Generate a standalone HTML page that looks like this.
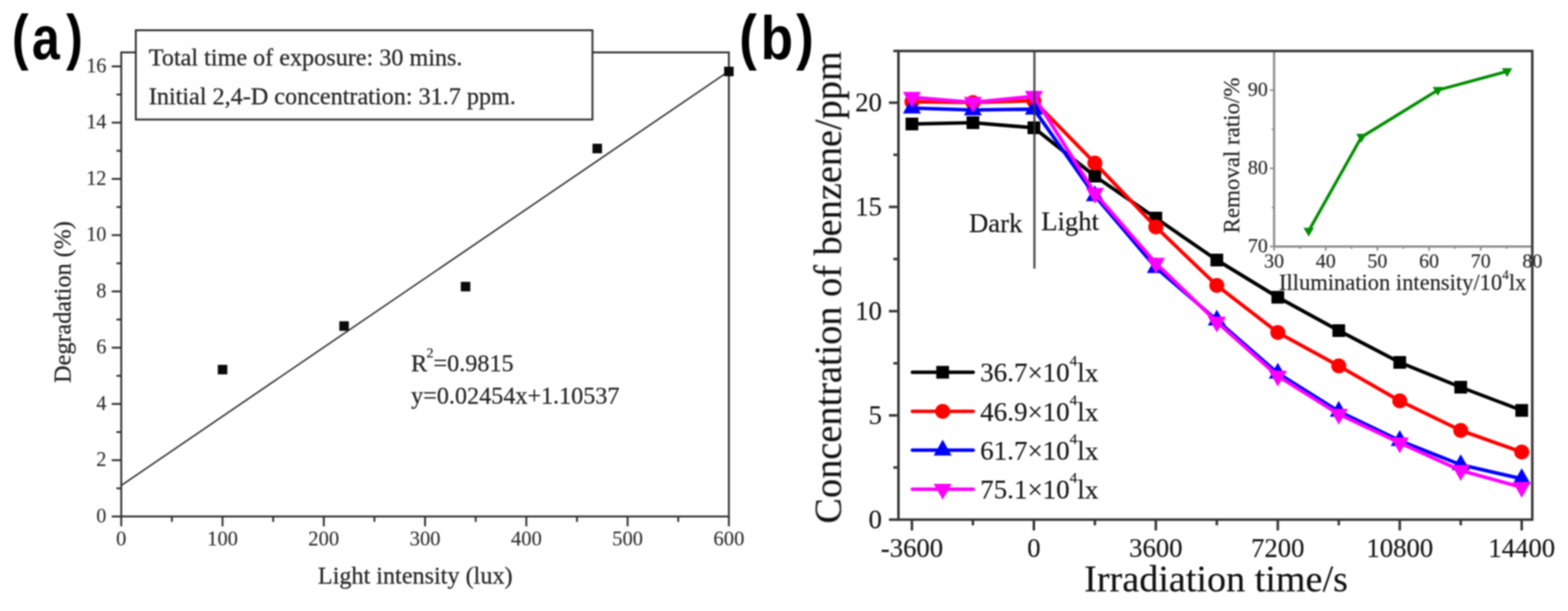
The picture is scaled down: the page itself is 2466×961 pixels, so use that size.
<!DOCTYPE html>
<html lang="en">
<head>
<meta charset="utf-8">
<title>Figure: degradation vs light intensity; benzene concentration vs irradiation time</title>
<style>
html, body { margin: 0; padding: 0; background: #ffffff; }
body { width: 2466px; height: 961px; overflow: hidden; }
svg { display: block; font-family: "Liberation Serif", "DejaVu Serif", serif; }
svg text { white-space: pre; }
#panel-a text { stroke: #262626; stroke-width: 0.38px; }
#panel-a text.tick { stroke: #2e2e2e; stroke-width: 0.2px; }
#panel-b text { stroke: #161616; stroke-width: 0.25px; }
#panel-a text.tag, #panel-b text.tag { stroke: none; }
.soft { filter: blur(1.1px); }
</style>
</head>
<body>
<svg width="2466" height="961" viewBox="0 0 2466 961">
<rect x="0" y="0" width="2466" height="961" fill="#ffffff"/>
<g class="soft">
<g id="panel-a">
<rect x="190.7" y="82.4" width="955.5999999999999" height="729.9" fill="none" stroke="#333333" stroke-width="3.0"/>
<line x1="175.7" y1="812.3" x2="190.7" y2="812.3" stroke="#333333" stroke-width="3.0" />
<line x1="183.2" y1="768.05625" x2="190.7" y2="768.05625" stroke="#333333" stroke-width="3.0" />
<line x1="175.7" y1="723.8125" x2="190.7" y2="723.8125" stroke="#333333" stroke-width="3.0" />
<line x1="183.2" y1="679.5687499999999" x2="190.7" y2="679.5687499999999" stroke="#333333" stroke-width="3.0" />
<line x1="175.7" y1="635.3249999999999" x2="190.7" y2="635.3249999999999" stroke="#333333" stroke-width="3.0" />
<line x1="183.2" y1="591.08125" x2="190.7" y2="591.08125" stroke="#333333" stroke-width="3.0" />
<line x1="175.7" y1="546.8375" x2="190.7" y2="546.8375" stroke="#333333" stroke-width="3.0" />
<line x1="183.2" y1="502.59374999999994" x2="190.7" y2="502.59374999999994" stroke="#333333" stroke-width="3.0" />
<line x1="175.7" y1="458.34999999999997" x2="190.7" y2="458.34999999999997" stroke="#333333" stroke-width="3.0" />
<line x1="183.2" y1="414.10625" x2="190.7" y2="414.10625" stroke="#333333" stroke-width="3.0" />
<line x1="175.7" y1="369.86249999999995" x2="190.7" y2="369.86249999999995" stroke="#333333" stroke-width="3.0" />
<line x1="183.2" y1="325.61875" x2="190.7" y2="325.61875" stroke="#333333" stroke-width="3.0" />
<line x1="175.7" y1="281.375" x2="190.7" y2="281.375" stroke="#333333" stroke-width="3.0" />
<line x1="183.2" y1="237.13125000000002" x2="190.7" y2="237.13125000000002" stroke="#333333" stroke-width="3.0" />
<line x1="175.7" y1="192.88749999999993" x2="190.7" y2="192.88749999999993" stroke="#333333" stroke-width="3.0" />
<line x1="183.2" y1="148.64374999999995" x2="190.7" y2="148.64374999999995" stroke="#333333" stroke-width="3.0" />
<line x1="175.7" y1="104.39999999999998" x2="190.7" y2="104.39999999999998" stroke="#333333" stroke-width="3.0" />
<line x1="190.7" y1="812.3" x2="190.7" y2="827.8" stroke="#333333" stroke-width="3.0" />
<line x1="270.3333333333333" y1="812.3" x2="270.3333333333333" y2="820.8" stroke="#333333" stroke-width="3.0" />
<line x1="349.96666666666664" y1="812.3" x2="349.96666666666664" y2="827.8" stroke="#333333" stroke-width="3.0" />
<line x1="429.6" y1="812.3" x2="429.6" y2="820.8" stroke="#333333" stroke-width="3.0" />
<line x1="509.2333333333333" y1="812.3" x2="509.2333333333333" y2="827.8" stroke="#333333" stroke-width="3.0" />
<line x1="588.8666666666666" y1="812.3" x2="588.8666666666666" y2="820.8" stroke="#333333" stroke-width="3.0" />
<line x1="668.5" y1="812.3" x2="668.5" y2="827.8" stroke="#333333" stroke-width="3.0" />
<line x1="748.1333333333332" y1="812.3" x2="748.1333333333332" y2="820.8" stroke="#333333" stroke-width="3.0" />
<line x1="827.7666666666667" y1="812.3" x2="827.7666666666667" y2="827.8" stroke="#333333" stroke-width="3.0" />
<line x1="907.3999999999999" y1="812.3" x2="907.3999999999999" y2="820.8" stroke="#333333" stroke-width="3.0" />
<line x1="987.0333333333333" y1="812.3" x2="987.0333333333333" y2="827.8" stroke="#333333" stroke-width="3.0" />
<line x1="1066.6666666666667" y1="812.3" x2="1066.6666666666667" y2="820.8" stroke="#333333" stroke-width="3.0" />
<line x1="1146.3" y1="812.3" x2="1146.3" y2="827.8" stroke="#333333" stroke-width="3.0" />
<text class="tick" transform="translate(167.3 821.5) scale(0.93 1)" font-size="34" fill="#2e2e2e" text-anchor="end">0</text>
<text class="tick" transform="translate(167.3 733.0) scale(0.93 1)" font-size="34" fill="#2e2e2e" text-anchor="end">2</text>
<text class="tick" transform="translate(167.3 644.5) scale(0.93 1)" font-size="34" fill="#2e2e2e" text-anchor="end">4</text>
<text class="tick" transform="translate(167.3 556.0) scale(0.93 1)" font-size="34" fill="#2e2e2e" text-anchor="end">6</text>
<text class="tick" transform="translate(167.3 467.5) scale(0.93 1)" font-size="34" fill="#2e2e2e" text-anchor="end">8</text>
<text class="tick" transform="translate(167.3 379.1) scale(0.93 1)" font-size="34" fill="#2e2e2e" text-anchor="end">10</text>
<text class="tick" transform="translate(167.3 290.6) scale(0.93 1)" font-size="34" fill="#2e2e2e" text-anchor="end">12</text>
<text class="tick" transform="translate(167.3 202.1) scale(0.93 1)" font-size="34" fill="#2e2e2e" text-anchor="end">14</text>
<text class="tick" transform="translate(167.3 113.6) scale(0.93 1)" font-size="34" fill="#2e2e2e" text-anchor="end">16</text>
<text class="tick" transform="translate(190.7 858) scale(0.97 1)" font-size="33.5" fill="#2e2e2e" text-anchor="middle">0</text>
<text class="tick" transform="translate(350.0 858) scale(0.97 1)" font-size="33.5" fill="#2e2e2e" text-anchor="middle">100</text>
<text class="tick" transform="translate(509.2 858) scale(0.97 1)" font-size="33.5" fill="#2e2e2e" text-anchor="middle">200</text>
<text class="tick" transform="translate(668.5 858) scale(0.97 1)" font-size="33.5" fill="#2e2e2e" text-anchor="middle">300</text>
<text class="tick" transform="translate(827.8 858) scale(0.97 1)" font-size="33.5" fill="#2e2e2e" text-anchor="middle">400</text>
<text class="tick" transform="translate(987.0 858) scale(0.97 1)" font-size="33.5" fill="#2e2e2e" text-anchor="middle">500</text>
<text class="tick" transform="translate(1146.3 858) scale(0.97 1)" font-size="33.5" fill="#2e2e2e" text-anchor="middle">600</text>
<line x1="190.7" y1="763.3942860625" x2="1146.3" y2="111.94931106249999" stroke="#333333" stroke-width="2.4" />
<rect x="342.5" y="573.8" width="15" height="15" fill="#0a0a0a"/>
<rect x="533.6" y="505.3" width="15" height="15" fill="#0a0a0a"/>
<rect x="724.7" y="443.3" width="15" height="15" fill="#0a0a0a"/>
<rect x="931.8" y="226.1" width="15" height="15" fill="#0a0a0a"/>
<rect x="1138.8" y="104.9" width="15" height="15" fill="#0a0a0a"/>
<rect x="213.6" y="47.6" width="718.2" height="140.4" fill="#fefefe" stroke="#333333" stroke-width="3.0"/>
<text x="234" y="102.5" font-size="38" fill="#262626" >Total time of exposure: 30 mins.</text>
<text x="234" y="164" font-size="38" fill="#262626" >Initial 2,4-D concentration: 31.7 ppm.</text>
<text x="646.5" y="584" font-size="38" fill="#262626">R<tspan font-size="22" dy="-22" dx="-1">2</tspan><tspan dy="22">=0.9815</tspan></text>
<text x="646.5" y="635" font-size="38" fill="#262626" >y=0.02454x+1.10537</text>
<text x="653" y="917.5" font-size="38" fill="#262626" text-anchor="middle" >Light intensity (lux)</text>
<text transform="translate(111 475) rotate(-90)" font-size="38" fill="#262626" text-anchor="middle">Degradation (%)</text>
<text class="tag" transform="translate(0 0) scale(0.82 1)" font-family='"Liberation Sans", "DejaVu Sans", sans-serif' font-weight="bold" font-size="96" fill="#000"><tspan x="22.96" y="91">(</tspan><tspan x="61.38" y="93">a</tspan><tspan x="126.99" y="91">)</tspan></text>
</g>
<g id="panel-b">
<line x1="2003.8" y1="80.2" x2="2003.8" y2="387.8" stroke="#8c8c8c" stroke-width="3.4" />
<line x1="2003.8" y1="387.8" x2="2409.8" y2="387.8" stroke="#8c8c8c" stroke-width="3.4" />
<line x1="1997.3" y1="387.8" x2="2003.8" y2="387.8" stroke="#8c8c8c" stroke-width="2.6" />
<line x1="2000.3" y1="326.3" x2="2003.8" y2="326.3" stroke="#8c8c8c" stroke-width="2.6" />
<line x1="1997.3" y1="264.8" x2="2003.8" y2="264.8" stroke="#8c8c8c" stroke-width="2.6" />
<line x1="2000.3" y1="203.3" x2="2003.8" y2="203.3" stroke="#8c8c8c" stroke-width="2.6" />
<line x1="1997.3" y1="141.8" x2="2003.8" y2="141.8" stroke="#8c8c8c" stroke-width="2.6" />
<line x1="2003.8" y1="387.8" x2="2003.8" y2="394.3" stroke="#8c8c8c" stroke-width="2.6" />
<line x1="2044.42" y1="387.8" x2="2044.42" y2="391.3" stroke="#8c8c8c" stroke-width="2.6" />
<line x1="2085.04" y1="387.8" x2="2085.04" y2="394.3" stroke="#8c8c8c" stroke-width="2.6" />
<line x1="2125.66" y1="387.8" x2="2125.66" y2="391.3" stroke="#8c8c8c" stroke-width="2.6" />
<line x1="2166.2799999999997" y1="387.8" x2="2166.2799999999997" y2="394.3" stroke="#8c8c8c" stroke-width="2.6" />
<line x1="2206.9" y1="387.8" x2="2206.9" y2="391.3" stroke="#8c8c8c" stroke-width="2.6" />
<line x1="2247.52" y1="387.8" x2="2247.52" y2="394.3" stroke="#8c8c8c" stroke-width="2.6" />
<line x1="2288.14" y1="387.8" x2="2288.14" y2="391.3" stroke="#8c8c8c" stroke-width="2.6" />
<line x1="2328.76" y1="387.8" x2="2328.76" y2="394.3" stroke="#8c8c8c" stroke-width="2.6" />
<line x1="2369.38" y1="387.8" x2="2369.38" y2="391.3" stroke="#8c8c8c" stroke-width="2.6" />
<line x1="2410.0" y1="387.8" x2="2410.0" y2="394.3" stroke="#8c8c8c" stroke-width="2.6" />
<text x="1994" y="397.1" font-size="31.5" fill="#2c2c2c" text-anchor="end" >70</text>
<text x="1994" y="274.1" font-size="31.5" fill="#2c2c2c" text-anchor="end" >80</text>
<text x="1994" y="151.1" font-size="31.5" fill="#2c2c2c" text-anchor="end" >90</text>
<text x="2003.8" y="421" font-size="31.5" fill="#2c2c2c" text-anchor="middle" >30</text>
<text x="2085.0" y="421" font-size="31.5" fill="#2c2c2c" text-anchor="middle" >40</text>
<text x="2166.3" y="421" font-size="31.5" fill="#2c2c2c" text-anchor="middle" >50</text>
<text x="2247.5" y="421" font-size="31.5" fill="#2c2c2c" text-anchor="middle" >60</text>
<text x="2328.8" y="421" font-size="31.5" fill="#2c2c2c" text-anchor="middle" >70</text>
<text x="2410.0" y="421" font-size="31.5" fill="#2c2c2c" text-anchor="middle" >80</text>
<text transform="translate(1949 244.5) rotate(-90)" font-size="36" fill="#262626" text-anchor="middle">Removal ratio/%</text>
<text x="2011.5" y="455.5" font-size="35.4" fill="#262626">Illumination intensity/10<tspan font-size="21" dy="-17">4</tspan><tspan dy="17">lx</tspan></text>
<polyline fill="none" stroke="#008e00" stroke-width="4.8" stroke-linejoin="round" points="2058.2,363.2 2141.1,215.6 2261.3,141.8 2370.2,112.3"/>
<polygon fill="#008e00" points="2050.0,358.2 2066.4,358.2 2058.2,372.2"/>
<polygon fill="#008e00" points="2132.9,210.6 2149.3,210.6 2141.1,224.6"/>
<polygon fill="#008e00" points="2253.1,136.8 2269.5,136.8 2261.3,150.8"/>
<polygon fill="#008e00" points="2362.0,107.3 2378.4,107.3 2370.2,121.3"/>
<rect x="1413.0" y="80.2" width="996.8000000000002" height="737.0999999999999" fill="none" stroke="#383838" stroke-width="4.0"/>
<line x1="1405.0" y1="80.2" x2="1413.0" y2="80.2" stroke="#383838" stroke-width="4.0" />
<line x1="1398.0" y1="817.3" x2="1413.0" y2="817.3" stroke="#383838" stroke-width="4.0" />
<line x1="1405.0" y1="735.3249999999999" x2="1413.0" y2="735.3249999999999" stroke="#383838" stroke-width="4.0" />
<line x1="1398.0" y1="653.3499999999999" x2="1413.0" y2="653.3499999999999" stroke="#383838" stroke-width="4.0" />
<line x1="1405.0" y1="571.375" x2="1413.0" y2="571.375" stroke="#383838" stroke-width="4.0" />
<line x1="1398.0" y1="489.4" x2="1413.0" y2="489.4" stroke="#383838" stroke-width="4.0" />
<line x1="1405.0" y1="407.42499999999995" x2="1413.0" y2="407.42499999999995" stroke="#383838" stroke-width="4.0" />
<line x1="1398.0" y1="325.44999999999993" x2="1413.0" y2="325.44999999999993" stroke="#383838" stroke-width="4.0" />
<line x1="1405.0" y1="243.4749999999999" x2="1413.0" y2="243.4749999999999" stroke="#383838" stroke-width="4.0" />
<line x1="1398.0" y1="161.5" x2="1413.0" y2="161.5" stroke="#383838" stroke-width="4.0" />
<line x1="1434.2" y1="817.3" x2="1434.2" y2="834.3" stroke="#383838" stroke-width="4.0" />
<line x1="1530.1" y1="817.3" x2="1530.1" y2="826.3" stroke="#383838" stroke-width="4.0" />
<line x1="1626.0" y1="817.3" x2="1626.0" y2="834.3" stroke="#383838" stroke-width="4.0" />
<line x1="1721.9" y1="817.3" x2="1721.9" y2="826.3" stroke="#383838" stroke-width="4.0" />
<line x1="1817.8" y1="817.3" x2="1817.8" y2="834.3" stroke="#383838" stroke-width="4.0" />
<line x1="1913.7" y1="817.3" x2="1913.7" y2="826.3" stroke="#383838" stroke-width="4.0" />
<line x1="2009.6" y1="817.3" x2="2009.6" y2="834.3" stroke="#383838" stroke-width="4.0" />
<line x1="2105.5" y1="817.3" x2="2105.5" y2="826.3" stroke="#383838" stroke-width="4.0" />
<line x1="2201.4" y1="817.3" x2="2201.4" y2="834.3" stroke="#383838" stroke-width="4.0" />
<line x1="2297.3" y1="817.3" x2="2297.3" y2="826.3" stroke="#383838" stroke-width="4.0" />
<line x1="2393.2" y1="817.3" x2="2393.2" y2="834.3" stroke="#383838" stroke-width="4.0" />
<text x="1387" y="830.8" font-size="42" fill="#161616" text-anchor="end" >0</text>
<text x="1387" y="666.8" font-size="42" fill="#161616" text-anchor="end" >5</text>
<text x="1387" y="502.9" font-size="42" fill="#161616" text-anchor="end" >10</text>
<text x="1387" y="338.9" font-size="42" fill="#161616" text-anchor="end" >15</text>
<text x="1387" y="175.0" font-size="42" fill="#161616" text-anchor="end" >20</text>
<text x="1434.2" y="876" font-size="42" fill="#161616" text-anchor="middle" >-3600</text>
<text x="1626.0" y="876" font-size="42" fill="#161616" text-anchor="middle" >0</text>
<text x="1817.8" y="876" font-size="42" fill="#161616" text-anchor="middle" >3600</text>
<text x="2009.6" y="876" font-size="42" fill="#161616" text-anchor="middle" >7200</text>
<text x="2201.4" y="876" font-size="42" fill="#161616" text-anchor="middle" >10800</text>
<text x="2393.2" y="876" font-size="42" fill="#161616" text-anchor="middle" >14400</text>
<text x="1524" y="364.5" font-size="42" fill="#161616" >Dark</text>
<text x="1637.5" y="361.5" font-size="42" fill="#161616" >Light</text>
<text x="1912.5" y="930" font-size="60" fill="#111" text-anchor="middle" >Irradiation time/s</text>
<text transform="translate(1322.5 452) rotate(-90) scale(0.972 1)" font-size="62" fill="#111" text-anchor="middle">Concentration of benzene/ppm</text>
<polyline fill="none" stroke="#000000" stroke-width="5.6" stroke-linejoin="round" points="1434.2,195 1530.1,193 1626.0,201 1721.9,277 1817.8,343 1913.7,409 2009.6,467.5 2105.5,520 2201.4,570 2297.3,609 2393.2,645.5"/>
<rect x="1424.2" y="185.0" width="20" height="20" fill="#000"/>
<rect x="1520.1" y="183.0" width="20" height="20" fill="#000"/>
<rect x="1616.0" y="191.0" width="20" height="20" fill="#000"/>
<rect x="1711.9" y="267.0" width="20" height="20" fill="#000"/>
<rect x="1807.8" y="333.0" width="20" height="20" fill="#000"/>
<rect x="1903.7" y="399.0" width="20" height="20" fill="#000"/>
<rect x="1999.6" y="457.5" width="20" height="20" fill="#000"/>
<rect x="2095.5" y="510.0" width="20" height="20" fill="#000"/>
<rect x="2191.4" y="560.0" width="20" height="20" fill="#000"/>
<rect x="2287.3" y="599.0" width="20" height="20" fill="#000"/>
<rect x="2383.2" y="635.5" width="20" height="20" fill="#000"/>
<polyline fill="none" stroke="#ff0000" stroke-width="5.6" stroke-linejoin="round" points="1434.2,160 1530.1,161.3 1626.0,158.5 1721.9,256.5 1817.8,357 1913.7,449 2009.6,523 2105.5,575.5 2201.4,630.5 2297.3,677 2393.2,711"/>
<circle cx="1434.2" cy="160.0" r="11.8" fill="#ff0000"/>
<circle cx="1530.1" cy="161.3" r="11.8" fill="#ff0000"/>
<circle cx="1626.0" cy="158.5" r="11.8" fill="#ff0000"/>
<circle cx="1721.9" cy="256.5" r="11.8" fill="#ff0000"/>
<circle cx="1817.8" cy="357.0" r="11.8" fill="#ff0000"/>
<circle cx="1913.7" cy="449.0" r="11.8" fill="#ff0000"/>
<circle cx="2009.6" cy="523.0" r="11.8" fill="#ff0000"/>
<circle cx="2105.5" cy="575.5" r="11.8" fill="#ff0000"/>
<circle cx="2201.4" cy="630.5" r="11.8" fill="#ff0000"/>
<circle cx="2297.3" cy="677.0" r="11.8" fill="#ff0000"/>
<circle cx="2393.2" cy="711.0" r="11.8" fill="#ff0000"/>
<polyline fill="none" stroke="#0000ff" stroke-width="5.6" stroke-linejoin="round" points="1434.2,170 1530.1,173 1626.0,171.7 1721.9,308 1817.8,421 1913.7,503.5 2009.6,587 2105.5,647 2201.4,693 2297.3,731 2393.2,753"/>
<polygon fill="#0000ff" points="1420.0,178.5 1448.4,178.5 1434.2,153.5"/>
<polygon fill="#0000ff" points="1515.9,181.5 1544.3,181.5 1530.1,156.5"/>
<polygon fill="#0000ff" points="1611.8,180.2 1640.2,180.2 1626.0,155.2"/>
<polygon fill="#0000ff" points="1707.7,316.5 1736.1,316.5 1721.9,291.5"/>
<polygon fill="#0000ff" points="1803.6,429.5 1832.0,429.5 1817.8,404.5"/>
<polygon fill="#0000ff" points="1899.5,512.0 1927.9,512.0 1913.7,487.0"/>
<polygon fill="#0000ff" points="1995.4,595.5 2023.8,595.5 2009.6,570.5"/>
<polygon fill="#0000ff" points="2091.3,655.5 2119.7,655.5 2105.5,630.5"/>
<polygon fill="#0000ff" points="2187.2,701.5 2215.6,701.5 2201.4,676.5"/>
<polygon fill="#0000ff" points="2283.1,739.5 2311.5,739.5 2297.3,714.5"/>
<polygon fill="#0000ff" points="2379.0,761.5 2407.4,761.5 2393.2,736.5"/>
<polyline fill="none" stroke="#ff00ff" stroke-width="5.6" stroke-linejoin="round" points="1434.2,153 1530.1,161 1626.0,151.5 1721.9,304 1817.8,414 1913.7,506.5 2009.6,591.5 2105.5,651.5 2201.4,696.5 2297.3,740 2393.2,766.5"/>
<polygon fill="#ff00ff" points="1420.0,144.5 1448.4,144.5 1434.2,169.5"/>
<polygon fill="#ff00ff" points="1515.9,152.5 1544.3,152.5 1530.1,177.5"/>
<polygon fill="#ff00ff" points="1611.8,143.0 1640.2,143.0 1626.0,168.0"/>
<polygon fill="#ff00ff" points="1707.7,295.5 1736.1,295.5 1721.9,320.5"/>
<polygon fill="#ff00ff" points="1803.6,405.5 1832.0,405.5 1817.8,430.5"/>
<polygon fill="#ff00ff" points="1899.5,498.0 1927.9,498.0 1913.7,523.0"/>
<polygon fill="#ff00ff" points="1995.4,583.0 2023.8,583.0 2009.6,608.0"/>
<polygon fill="#ff00ff" points="2091.3,643.0 2119.7,643.0 2105.5,668.0"/>
<polygon fill="#ff00ff" points="2187.2,688.0 2215.6,688.0 2201.4,713.0"/>
<polygon fill="#ff00ff" points="2283.1,731.5 2311.5,731.5 2297.3,756.5"/>
<polygon fill="#ff00ff" points="2379.0,758.0 2407.4,758.0 2393.2,783.0"/>
<line x1="1626.8" y1="80.2" x2="1626.8" y2="422.5" stroke="#383838" stroke-width="3.6" opacity="0.85"/>
<line x1="1435" y1="585.5" x2="1530.5" y2="585.5" stroke="#000000" stroke-width="5.6" stroke-linecap="round"/>
<rect x="1472.5" y="575.5" width="20" height="20" fill="#000"/>
<text x="1541.5" y="600.0" font-size="42.5" fill="#161616">36.7×10<tspan font-size="24" dy="-25">4</tspan><tspan dy="25">lx</tspan></text>
<line x1="1435" y1="647" x2="1530.5" y2="647" stroke="#ff0000" stroke-width="5.6" stroke-linecap="round"/>
<circle cx="1482.5" cy="647.0" r="11.8" fill="#ff0000"/>
<text x="1541.5" y="661.5" font-size="42.5" fill="#161616">46.9×10<tspan font-size="24" dy="-25">4</tspan><tspan dy="25">lx</tspan></text>
<line x1="1435" y1="708" x2="1530.5" y2="708" stroke="#0000ff" stroke-width="5.6" stroke-linecap="round"/>
<polygon fill="#0000ff" points="1468.3,716.5 1496.7,716.5 1482.5,691.5"/>
<text x="1541.5" y="722.5" font-size="42.5" fill="#161616">61.7×10<tspan font-size="24" dy="-25">4</tspan><tspan dy="25">lx</tspan></text>
<line x1="1435" y1="769.5" x2="1530.5" y2="769.5" stroke="#ff00ff" stroke-width="5.6" stroke-linecap="round"/>
<polygon fill="#ff00ff" points="1468.3,761.0 1496.7,761.0 1482.5,786.0"/>
<text x="1541.5" y="784.0" font-size="42.5" fill="#161616">75.1×10<tspan font-size="24" dy="-25">4</tspan><tspan dy="25">lx</tspan></text>
<text class="tag" transform="translate(1150 0) scale(0.87 1)" font-family='"Liberation Sans", "DejaVu Sans", sans-serif' font-weight="bold" font-size="96" fill="#000"><tspan x="14.26" y="91">(</tspan><tspan x="53.18" y="93">b</tspan><tspan x="117.25" y="91">)</tspan></text>
</g>
</g>
</svg>
</body>
</html>
